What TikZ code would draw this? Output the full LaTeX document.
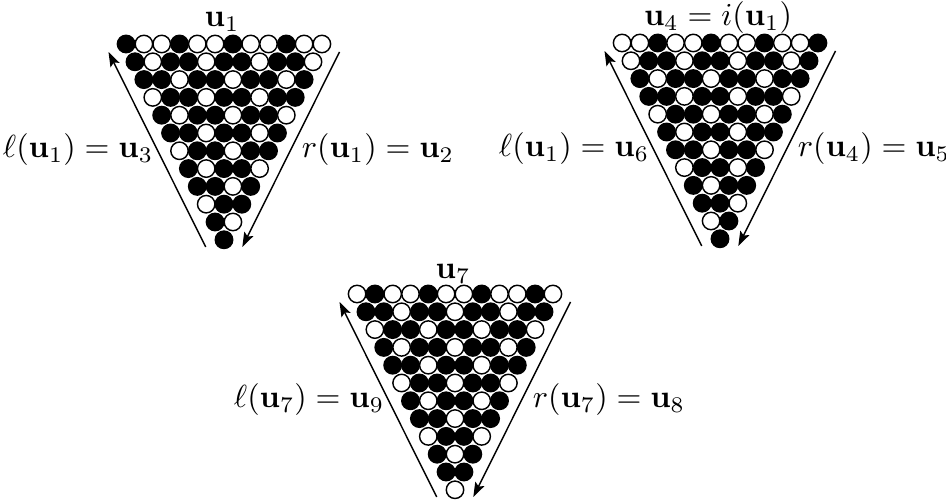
\documentclass[tikz,border=0pt]{standalone}
\usepackage{amsmath}
\usepackage{tikz}
\usetikzlibrary{arrows.meta}
\colorlet{c0}{white}
\colorlet{c1}{black}

\begin{document}
\begin{tikzpicture}[
  x=0.011cm,y=-0.011cm,
  every node/.style={font=\fontsize{9.6pt}{11pt}\selectfont},
  dot/.style={draw=black,line width=0.45pt},
  side/.style={-{Stealth[length=1.6mm,width=1.1mm,inset=0.3mm]},line width=0.45pt},
  lbl/.style={inner sep=1pt},
  head/.style={anchor=base,inner sep=0pt}
]
\useasboundingbox (0,0) rectangle (946,500);
% triangle u_1
\begin{scope}[shift={(224,44)}]
\foreach \row [count=\k from 0] in {{1,0,0,1,0,0,1,0,0,1,0,0},{1,0,1,1,0,1,1,0,1,1,0},{1,1,0,1,1,0,1,1,0,1},{0,1,1,0,1,1,0,1,1},{1,0,1,1,0,1,1,0},{1,1,0,1,1,0,1},{0,1,1,0,1,1},{1,0,1,1,0},{1,1,0,1},{0,1,1},{1,0},{1}}
  \foreach \c [count=\j from 0] in \row
    \draw[dot,fill=c\c] ({(\j-(11-\k)/2)*17.8},{\k*17.8}) circle[radius=0.096cm];
\coordinate (tl1) at (-115.5,8);
\coordinate (bl1) at (-18.3,203);
\coordinate (tr1) at (115.5,8);
\coordinate (br1) at (18.3,203);
\node[head] (top1) at (-2,-17) {$\mathbf{u}_1$};
\end{scope}
\draw[side] (bl1) -- (tl1) node[midway,lbl,left] (ll1) {$\ell(\mathbf{u}_1)=\mathbf{u}_3$};
\draw[side] (tr1) -- (br1) node[midway,lbl,right=2.2pt] (rl1) {$r(\mathbf{u}_1)=\mathbf{u}_2$};
% triangle u_4
\begin{scope}[shift={(720,43)}]
\foreach \row [count=\k from 0] in {{0,0,1,0,0,1,0,0,1,0,0,1},{0,1,1,0,1,1,0,1,1,0,1},{1,0,1,1,0,1,1,0,1,1},{1,1,0,1,1,0,1,1,0},{0,1,1,0,1,1,0,1},{1,0,1,1,0,1,1},{1,1,0,1,1,0},{0,1,1,0,1},{1,0,1,1},{1,1,0},{0,1},{1}}
  \foreach \c [count=\j from 0] in \row
    \draw[dot,fill=c\c] ({(\j-(11-\k)/2)*17.8},{\k*17.8}) circle[radius=0.096cm];
\coordinate (tl2) at (-115.5,8);
\coordinate (bl2) at (-18.3,203);
\coordinate (tr2) at (115.5,8);
\coordinate (br2) at (18.3,203);
\node[head] (top2) at (-2,-17) {$\mathbf{u}_4=i(\mathbf{u}_1)$};
\end{scope}
\draw[side] (bl2) -- (tl2) node[midway,lbl,left] (ll2) {$\ell(\mathbf{u}_1)=\mathbf{u}_6$};
\draw[side] (tr2) -- (br2) node[midway,lbl,right=2.2pt] (rl2) {$r(\mathbf{u}_4)=\mathbf{u}_5$};
% triangle u_7
\begin{scope}[shift={(455,294)}]
\foreach \row [count=\k from 0] in {{0,1,0,0,1,0,0,1,0,0,1,0},{1,1,0,1,1,0,1,1,0,1,1},{0,1,1,0,1,1,0,1,1,0},{1,0,1,1,0,1,1,0,1},{1,1,0,1,1,0,1,1},{0,1,1,0,1,1,0},{1,0,1,1,0,1},{1,1,0,1,1},{0,1,1,0},{1,0,1},{1,1},{0}}
  \foreach \c [count=\j from 0] in \row
    \draw[dot,fill=c\c] ({(\j-(11-\k)/2)*17.8},{\k*17.8}) circle[radius=0.096cm];
\coordinate (tl3) at (-115.5,8);
\coordinate (bl3) at (-18.3,203);
\coordinate (tr3) at (115.5,8);
\coordinate (br3) at (18.3,203);
\node[head] (top3) at (-2,-15) {$\mathbf{u}_7$};
\end{scope}
\draw[side] (bl3) -- (tl3) node[midway,lbl,left] (ll3) {$\ell(\mathbf{u}_7)=\mathbf{u}_9$};
\draw[side] (tr3) -- (br3) node[midway,lbl,right=2.2pt] (rl3) {$r(\mathbf{u}_7)=\mathbf{u}_8$};
\end{tikzpicture}
\end{document}
